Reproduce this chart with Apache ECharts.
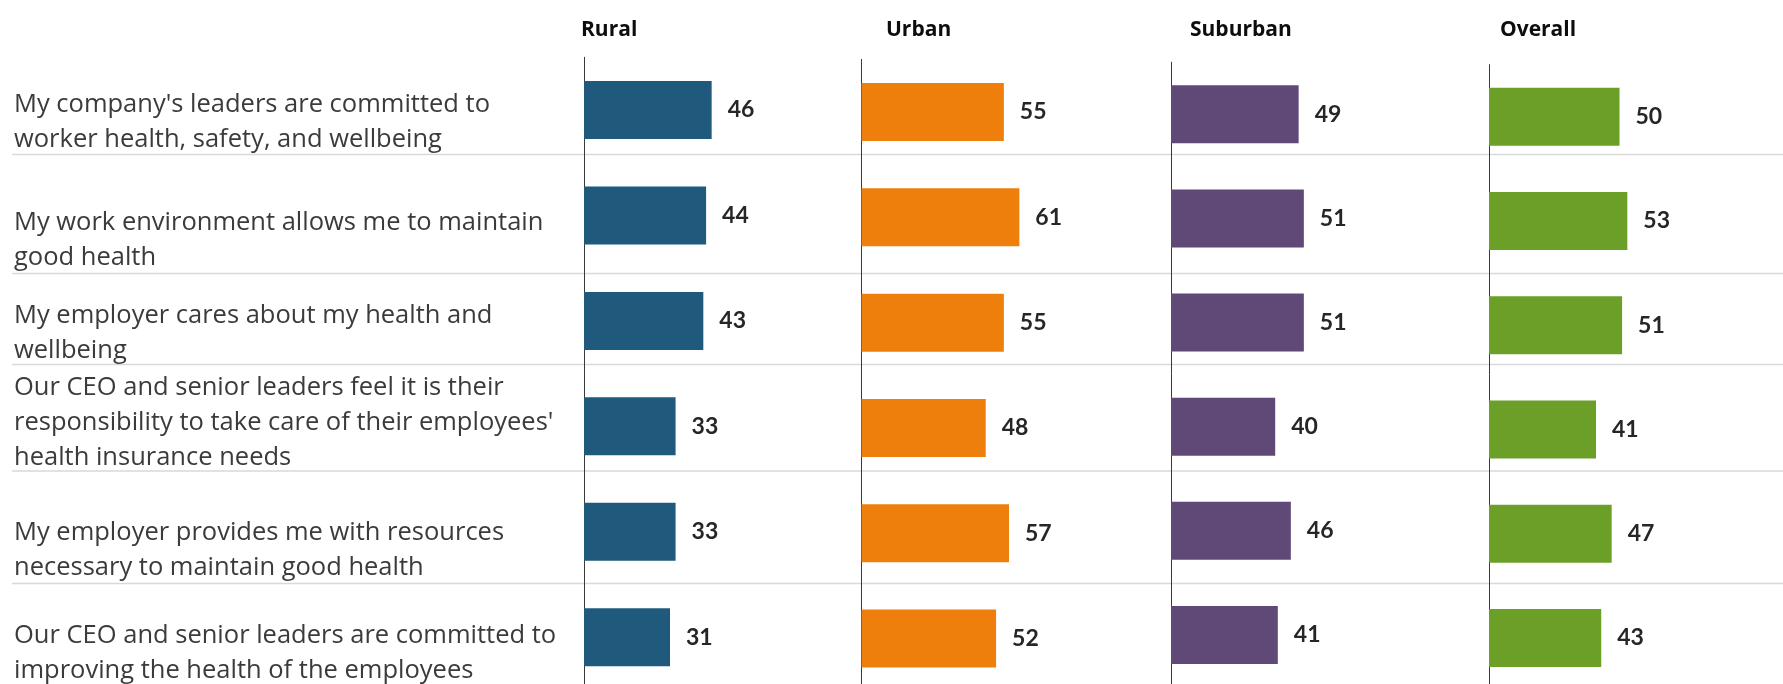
<!DOCTYPE html>
<html>
<head>
<meta charset="utf-8">
<title>Employer health commitment</title>
<script src="https://cdn.jsdelivr.net/npm/echarts@6/dist/echarts.min.js"></script>
<style>
  html, body { margin: 0; padding: 0; background: #fff; }
  #chart { width: 1783px; height: 684px; }
</style>
</head>
<body>
<div id="chart"></div>
<script>
// data
const statements = [
  "My company's leaders are committed to\nworker health, safety, and wellbeing",
  'My work environment allows me to maintain\ngood health',
  'My employer cares about my health and\nwellbeing',
  "Our CEO and senior leaders feel it is their\nresponsibility to take care of their employees'\nhealth insurance needs",
  'My employer provides me with resources\nnecessary to maintain good health',
  'Our CEO and senior leaders are committed to\nimproving the health of the employees'
]
const groupNames = ['Rural', 'Urban', 'Suburban', 'Overall']
const rural = [46, 44, 43, 33, 33, 31]
const urban = [55, 61, 55, 48, 57, 52]
const suburban = [49, 51, 51, 40, 46, 41]
const overall = [50, 53, 51, 41, 47, 43]
const groupValues = [rural, urban, suburban, overall]

// layout of the four small panels (px)
const panels = [
  { left: 584, width: 277.5, top: 57.3, height: 632.6, head: 581, color: '#1F5A7C' },
  { left: 861.5, width: 258.8, top: 59.4, height: 631.8, head: 886, color: '#EF7F0C' },
  { left: 1171, width: 260.5, top: 62.2, height: 624.8, head: 1190, color: '#604877' },
  { left: 1489, width: 261, top: 64.7, height: 625.4, head: 1500, color: '#6B9F28' }
]
// the row texts sit low in their cells, not on the bar centre (px, + is down)
const labelShift = [12, 25, 12, -4, 18, 16]
const separatorY = [154.5, 273.5, 364.5, 471, 583.5]

const textColor = '#3b3b3b'

const chart = echarts.init(document.getElementById('chart'))

// an invisible spacer line above (or below) the text moves the block,
// since the block is centred on the band
const spacerRich = {}
labelShift.forEach((d, i) => {
  spacerRich['gap' + i] = { fontSize: 1, lineHeight: Math.abs(d) * 2, color: 'transparent' }
})

function rowLabel(value, index) {
  const d = labelShift[index] || 0
  if (d > 0) return '{gap' + index + '|\u00a0}\n' + value
  if (d < 0) return value + '\n{gap' + index + '|\u00a0}'
  return value
}

const grids = []
const xAxes = []
const yAxes = []
const series = []
const titles = []

panels.forEach((p, i) => {
  grids.push({
    left: p.left, top: p.top, width: p.width, height: p.height,
    outerBoundsMode: 'none', containLabel: false
  })
  xAxes.push({
    type: 'value', gridIndex: i, min: 0, max: 100,
    show: false, splitLine: { show: false }
  })
  yAxes.push({
    type: 'category', gridIndex: i, inverse: true,
    data: statements,
    axisLine: { show: true, lineStyle: { color: '#3a3a3a', width: 1 } },
    axisTick: { show: false },
    splitLine: { show: false },
    axisLabel: {
      show: i === 0,
      interval: 0,
      align: 'left',
      margin: p.left - 14,
      fontFamily: 'Open Sans',
      fontSize: 25.5,
      lineHeight: 35,
      color: textColor,
      formatter: rowLabel,
      rich: spacerRich
    }
  })
  series.push({
    type: 'bar',
    name: groupNames[i],
    xAxisIndex: i,
    yAxisIndex: i,
    data: groupValues[i],
    barWidth: 58,
    itemStyle: { color: p.color },
    label: {
      show: true,
      position: 'right',
      distance: 16,
      fontFamily: 'Lato',
      fontWeight: 'bold',
      fontSize: 23,
      color: '#262626'
    },
    silent: true
  })
  titles.push({
    text: groupNames[i],
    left: p.head,
    top: 20,
    padding: 0,
    textStyle: { fontFamily: 'Open Sans', fontWeight: 'bold', fontSize: 21, color: '#0d0d0d' }
  })
})

// thin grey rules between the statements
const rules = separatorY.map(y => ({
  type: 'line',
  z: -1,
  shape: { x1: 12, y1: y, x2: 1783, y2: y },
  style: { stroke: '#d9d9d9', lineWidth: 1.5 }
}))

chart.setOption({
  animation: false,
  title: titles,
  grid: grids,
  xAxis: xAxes,
  yAxis: yAxes,
  series: series,
  graphic: rules
})

window.addEventListener('resize', () => chart.resize())
</script>
</body>
</html>
